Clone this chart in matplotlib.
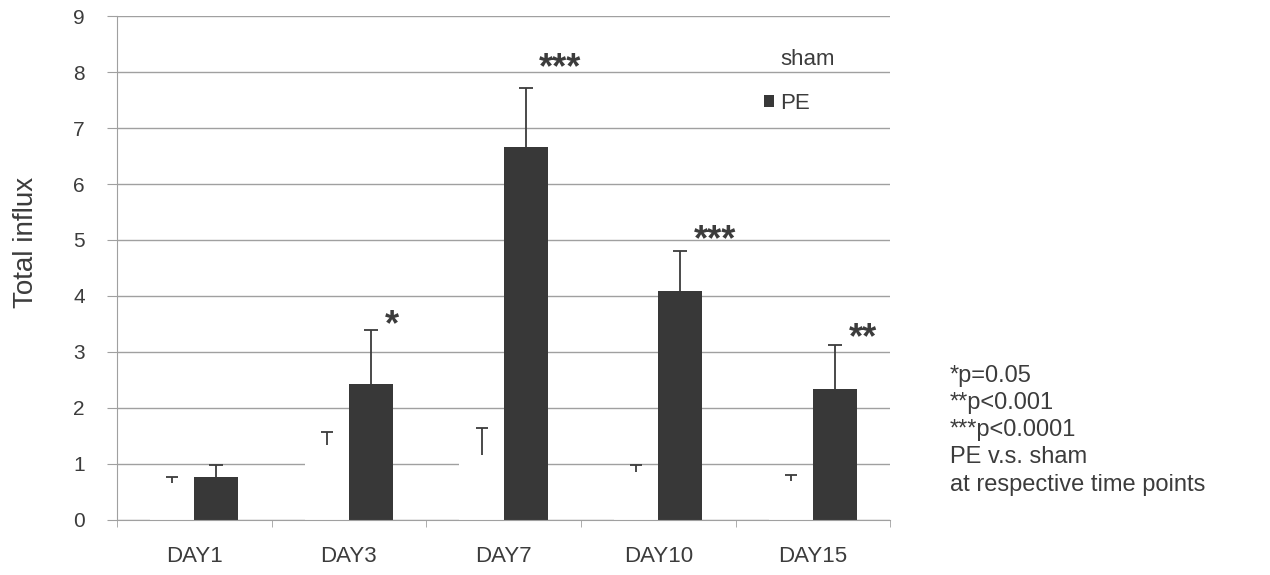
import numpy as np
import matplotlib.pyplot as plt

plt.rcParams['font.family'] = ['Liberation Sans', 'DejaVu Sans']

# data
days = ["DAY1", "DAY3", "DAY7", "DAY10", "DAY15"]
sham_mean = [0.65, 1.34, 1.16, 0.86, 0.70]
sham_err = [0.12, 0.23, 0.48, 0.12, 0.10]
pe_mean = [0.77, 2.43, 6.66, 4.09, 2.34]
pe_err = [0.21, 0.96, 1.05, 0.71, 0.79]
stars = ["", "*", "***", "***", "**"]
star_y = [0, 3.61, 8.21, 5.14, 3.39]  # height of the significance marks

gray = "#a0a0a0"
txt = "#3c3c3c"
bar_col = "#383838"

fig = plt.figure(figsize=(12.7, 5.75), dpi=100)
ax = fig.add_axes([0.092, 0.096, 0.609, 0.876])

x = np.arange(len(days))
w = 0.285
ax.bar(x - w / 2, sham_mean, w, color="white", label="sham", zorder=2)
ax.bar(x + w / 2, pe_mean, w, color=bar_col, label="PE", zorder=2)

# upward error bars only, no cap at the bar top
for xs, m, e, cs in [(x - w / 2, sham_mean, sham_err, 4), (x + w / 2, pe_mean, pe_err, 5)]:
    eb = ax.errorbar(xs, m, yerr=[np.zeros(len(days)), e], fmt="none", ecolor=txt,
                     elinewidth=1.3, capsize=cs, capthick=1.3, zorder=3)
    eb.lines[1][0].set_visible(False)

for i, s in enumerate(stars):
    if s:
        ax.text(x[i] + 0.23, star_y[i] - 0.32, s, fontsize=26, color=txt,
                ha="left", va="baseline", fontweight="bold")

ax.set_xlim(-0.5, len(days) - 0.5)
ax.set_ylim(0, 9)
ax.set_yticks(range(10))
ax.set_xticks(x)
ax.set_xticklabels(days)
ax.set_xticks(np.arange(-0.5, len(days), 1), minor=True)
ax.tick_params(axis="x", which="major", length=0, pad=19, labelsize=16, labelcolor=txt)
ax.tick_params(axis="x", which="minor", length=5, color=gray, direction="out")
ax.tick_params(axis="y", length=7, color=gray, labelsize=15, labelcolor=txt, pad=16)

ax.grid(axis="y", color=gray, linewidth=1)
ax.set_axisbelow(True)
for side in ["top", "right"]:
    ax.spines[side].set_visible(False)
ax.spines["left"].set_color(gray)
ax.spines["bottom"].set_color(gray)
ax.set_ylabel("Total influx", fontsize=20, color=txt)
ax.yaxis.set_label_coords(-0.1, 0.55)

leg = ax.legend(loc="upper left", bbox_to_anchor=(0.825, 0.953), frameon=False,
                fontsize=16, handlelength=0.45, handleheight=0.45,
                labelspacing=1.05, handletextpad=0.3, borderaxespad=0)
for t in leg.get_texts():
    t.set_color(txt)

note = "*p=0.05\n**p<0.001\n***p<0.0001\nPE v.s. sham\nat respective time points"
fig.text(0.748, 0.365, note, fontsize=17, color=txt, va="top", ha="left", linespacing=1.3)

fig.savefig("out.png", dpi=100)
